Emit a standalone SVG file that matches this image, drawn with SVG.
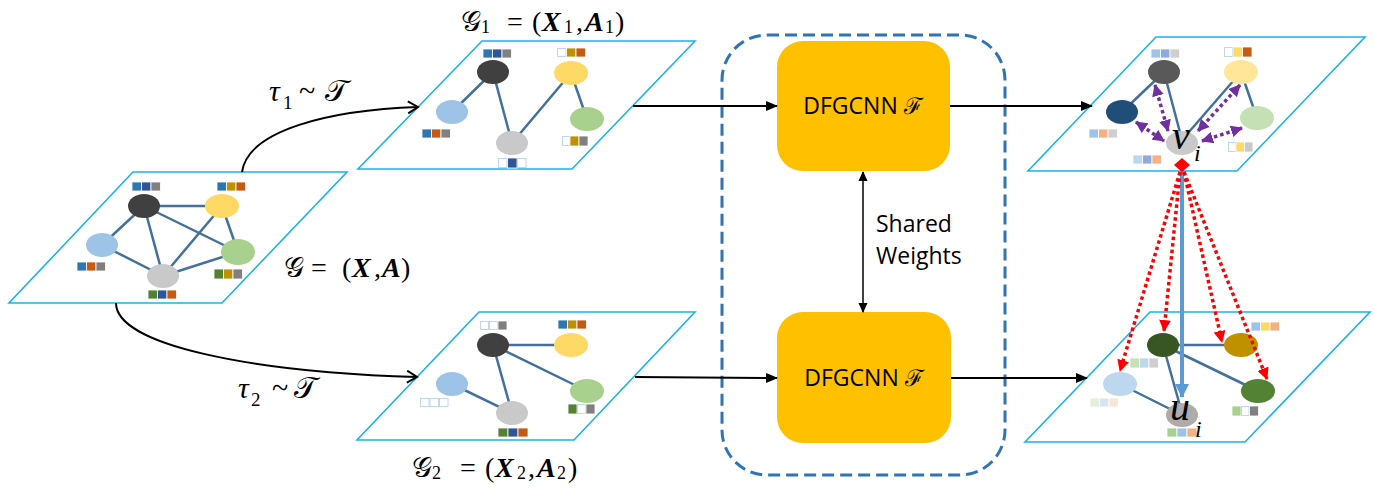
<svg xmlns="http://www.w3.org/2000/svg" width="1374" height="493" viewBox="0 0 1374 493">
<style>
.plane{fill:#fff;stroke:#1CB2EC;stroke-width:1.6}
.edge{stroke:#41719C;stroke-width:2.5;fill:none}
.sq{stroke:#fff;stroke-width:0.8}
.wsq{fill:#fff;stroke:#BDD7EE;stroke-width:1}
.conn{stroke:#000;stroke-width:2;fill:none}
.math{font-family:"Liberation Serif","DejaVu Serif",serif;fill:#000}
.bi{font-weight:bold;font-style:italic}
.it{font-style:italic}
.sub{font-size:18px}
.lbl{font-family:"Open Sans","Liberation Sans",sans-serif;font-size:23px;fill:#000}
.box{fill:#FFC000}
.purple{stroke:#7030A0;stroke-width:3.5;stroke-dasharray:3.5 3;fill:none}
.red{stroke:#FF0000;stroke-width:3.5;stroke-dasharray:3.5 3;fill:none}
</style>
<defs>
<marker id="tri" markerUnits="userSpaceOnUse" markerWidth="12" markerHeight="10" refX="11" refY="5" orient="auto"><path d="M0,0 L12,5 L0,10 Z" fill="#000"/></marker>
<marker id="tri2" markerUnits="userSpaceOnUse" markerWidth="10" markerHeight="10" refX="9" refY="5" orient="auto-start-reverse"><path d="M0,0.5 L10,5 L0,9.5 Z" fill="#000"/></marker>
<marker id="chev" markerUnits="userSpaceOnUse" markerWidth="14" markerHeight="14" refX="12" refY="7" orient="auto"><path d="M2,1 L12,7 L2,13" fill="none" stroke="#000" stroke-width="2"/></marker>
<marker id="pur" markerUnits="userSpaceOnUse" markerWidth="12" markerHeight="12" refX="11" refY="6" orient="auto-start-reverse"><path d="M0,0 L12,6 L0,12 Z" fill="#7030A0"/></marker>
<marker id="redm" markerUnits="userSpaceOnUse" markerWidth="12" markerHeight="12" refX="11" refY="6" orient="auto"><path d="M0,0 L12,6 L0,12 Z" fill="#FF0000"/></marker>
<marker id="bluem" markerUnits="userSpaceOnUse" markerWidth="14" markerHeight="14" refX="13" refY="7" orient="auto"><path d="M0,0 L14,7 L0,14 Z" fill="#5B9BD5"/></marker>
</defs>

<!-- dashed container -->
<g id="shared-box">
<rect x="722" y="35" width="283" height="440" rx="45" fill="none" stroke="#2E75B6" stroke-width="3" stroke-dasharray="12 6"/>
</g>

<!-- Original graph G -->
<g id="graph-G">
<polygon class="plane" points="133,172 347,172 222,303 9,303"/>
<line class="edge" x1="144" y1="206" x2="222" y2="206"/>
<line class="edge" x1="144" y1="206" x2="102" y2="245"/>
<line class="edge" x1="144" y1="206" x2="163" y2="276"/>
<line class="edge" x1="144" y1="206" x2="238" y2="252"/>
<line class="edge" x1="222" y1="206" x2="163" y2="276"/>
<line class="edge" x1="222" y1="206" x2="238" y2="252"/>
<line class="edge" x1="102" y1="245" x2="163" y2="276"/>
<line class="edge" x1="163" y1="276" x2="238" y2="252"/>
<ellipse cx="144" cy="206" rx="16" ry="12" fill="#404040"/>
<ellipse cx="222" cy="206" rx="17" ry="12" fill="#FFD966"/>
<ellipse cx="102" cy="245" rx="16" ry="12" fill="#9DC3E6"/>
<ellipse cx="238" cy="252" rx="17" ry="13" fill="#A9D18E"/>
<ellipse cx="163" cy="276" rx="16" ry="12" fill="#C9C9C9"/>
<rect class="sq" x="132" y="182" width="9.5" height="9" fill="#2E75B6"/><rect class="sq" x="141.5" y="182" width="9.5" height="9" fill="#2F5597"/><rect class="sq" x="151" y="182" width="9.5" height="9" fill="#808080"/>
<rect class="sq" x="217" y="182" width="9.5" height="9" fill="#2E75B6"/><rect class="sq" x="226.5" y="182" width="9.5" height="9" fill="#BF9000"/><rect class="sq" x="236" y="182" width="9.5" height="9" fill="#C55A11"/>
<rect class="sq" x="77" y="262" width="9.5" height="9" fill="#2E75B6"/><rect class="sq" x="86.5" y="262" width="9.5" height="9" fill="#C55A11"/><rect class="sq" x="96" y="262" width="9.5" height="9" fill="#808080"/>
<rect class="sq" x="214" y="269" width="9.5" height="10" fill="#548235"/><rect class="sq" x="223.5" y="269" width="9.5" height="10" fill="#BF9000"/><rect class="sq" x="233" y="269" width="9.5" height="10" fill="#808080"/>
<rect class="sq" x="148" y="290" width="9.5" height="9" fill="#548235"/><rect class="sq" x="157.5" y="290" width="9.5" height="9" fill="#2F5597"/><rect class="sq" x="167" y="290" width="9.5" height="9" fill="#C55A11"/>
<text class="math" style="font-size:28px" y="277"><tspan x="284">𝒢</tspan><tspan x="311">=</tspan><tspan x="342">(</tspan><tspan x="352" class="bi">X</tspan><tspan x="374">,</tspan><tspan x="382" class="bi">A</tspan><tspan x="401">)</tspan></text>
</g>

<!-- G1 -->
<g id="graph-G1">
<polygon class="plane" points="482,41 695,41 572,169 358,169"/>
<line class="edge" x1="493" y1="72" x2="452" y2="112"/>
<line class="edge" x1="493" y1="72" x2="512" y2="143"/>
<line class="edge" x1="512" y1="143" x2="571" y2="73"/>
<line class="edge" x1="571" y1="73" x2="587" y2="119"/>
<ellipse cx="493" cy="72" rx="16" ry="12" fill="#404040"/>
<ellipse cx="571" cy="73" rx="17" ry="12" fill="#FFD966"/>
<ellipse cx="452" cy="112" rx="16" ry="12" fill="#9DC3E6"/>
<ellipse cx="587" cy="119" rx="17" ry="12" fill="#A9D18E"/>
<ellipse cx="512" cy="143" rx="16" ry="12" fill="#C9C9C9"/>
<rect class="sq" x="483" y="49" width="9.5" height="9" fill="#2E75B6"/><rect class="sq" x="492.5" y="49" width="9.5" height="9" fill="#2F5597"/><rect class="sq" x="502" y="49" width="9.5" height="9" fill="#808080"/>
<rect class="wsq" x="557.5" y="48.5" width="8.5" height="8"/><rect class="sq" x="566.5" y="48" width="9.5" height="9" fill="#BF9000"/><rect class="sq" x="576" y="48" width="9.5" height="9" fill="#C55A11"/>
<rect class="sq" x="422" y="129" width="9.5" height="9" fill="#2E75B6"/><rect class="sq" x="431.5" y="129" width="9.5" height="9" fill="#C55A11"/><rect class="sq" x="441" y="129" width="9.5" height="9" fill="#808080"/>
<rect class="wsq" x="562.5" y="136.5" width="7.5" height="9"/><rect class="sq" x="570" y="136" width="9" height="10" fill="#BF9000"/><rect class="sq" x="579" y="136" width="9" height="10" fill="#808080"/>
<rect class="wsq" x="498.5" y="158.5" width="8.5" height="9"/><rect class="sq" x="507.5" y="158" width="9.5" height="10" fill="#2F5597"/><rect class="wsq" x="517.5" y="158.5" width="8.5" height="9"/>
<text class="math" style="font-size:28px"><tspan x="461" y="31">𝒢</tspan><tspan x="481" y="33" class="sub">1</tspan><tspan x="507" y="31">=</tspan><tspan x="532" y="31">(</tspan><tspan x="542" y="31" class="bi">X</tspan><tspan x="564" y="33" class="sub">1</tspan><tspan x="576" y="31">,</tspan><tspan x="585" y="31" class="bi">A</tspan><tspan x="605" y="33" class="sub">1</tspan><tspan x="615" y="31">)</tspan></text>
</g>

<!-- G2 -->
<g id="graph-G2">
<polygon class="plane" points="479,312 695,312 574,440 357,440"/>
<line class="edge" x1="493" y1="345" x2="571" y2="345"/>
<line class="edge" x1="493" y1="345" x2="587" y2="391"/>
<line class="edge" x1="493" y1="345" x2="512" y2="413"/>
<line class="edge" x1="452" y1="384" x2="512" y2="413"/>
<ellipse cx="493" cy="345" rx="16" ry="12" fill="#404040"/>
<ellipse cx="571" cy="345" rx="17" ry="12" fill="#FFD966"/>
<ellipse cx="452" cy="384" rx="16" ry="12" fill="#9DC3E6"/>
<ellipse cx="587" cy="391" rx="17" ry="12" fill="#A9D18E"/>
<ellipse cx="512" cy="413" rx="16" ry="12" fill="#C9C9C9"/>
<rect class="wsq" x="480.5" y="321.5" width="8" height="8"/><rect class="wsq" x="489.5" y="321.5" width="8" height="8"/><rect class="sq" x="498" y="321" width="9" height="9" fill="#808080"/>
<rect class="sq" x="558" y="320" width="9.5" height="9" fill="#2E75B6"/><rect class="sq" x="567.5" y="320" width="9.5" height="9" fill="#BF9000"/><rect class="sq" x="577" y="320" width="9.5" height="9" fill="#C55A11"/>
<rect class="wsq" x="420.5" y="398.5" width="8.5" height="8"/><rect class="wsq" x="430" y="398.5" width="8.5" height="8"/><rect class="wsq" x="439.5" y="398.5" width="8.5" height="8"/>
<rect class="sq" x="568" y="404" width="9" height="10" fill="#548235"/><rect class="wsq" x="577.5" y="404.5" width="8" height="9"/><rect class="sq" x="586" y="404" width="9" height="10" fill="#808080"/>
<rect class="sq" x="498" y="428" width="10" height="9" fill="#548235"/><rect class="sq" x="508" y="428" width="10" height="9" fill="#2F5597"/><rect class="sq" x="518" y="428" width="10" height="9" fill="#C55A11"/>
<text class="math" style="font-size:28px"><tspan x="412" y="477">𝒢</tspan><tspan x="432" y="479" class="sub">2</tspan><tspan x="460" y="477">=</tspan><tspan x="485" y="477">(</tspan><tspan x="495" y="477" class="bi">X</tspan><tspan x="517" y="479" class="sub">2</tspan><tspan x="528" y="477">,</tspan><tspan x="537" y="477" class="bi">A</tspan><tspan x="557" y="479" class="sub">2</tspan><tspan x="568" y="477">)</tspan></text>
</g>

<!-- DFGCNN boxes -->
<g id="dfgcnn-top">
<rect class="box" x="777" y="41" width="173" height="130" rx="26"/>
<text class="lbl" x="863" y="114" text-anchor="middle">DFGCNN ℱ</text>
</g>
<g id="dfgcnn-bottom">
<rect class="box" x="777" y="312" width="174" height="131" rx="26"/>
<text class="lbl" x="864" y="386" text-anchor="middle">DFGCNN ℱ</text>
</g>
<g id="shared-label">
<text class="lbl" x="876" y="232">Shared</text>
<text class="lbl" x="876" y="264">Weights</text>
</g>

<!-- Right top graph (view v) -->
<g id="graph-out-top">
<polygon class="plane" points="1156,37 1365,37 1237,171 1028,171"/>
<line class="edge" x1="1164" y1="72" x2="1122" y2="112"/>
<line class="edge" x1="1164" y1="72" x2="1182" y2="140"/>
<line class="edge" x1="1182" y1="140" x2="1241" y2="72"/>
<line class="edge" x1="1241" y1="72" x2="1257" y2="118"/>
<ellipse cx="1164" cy="72" rx="16" ry="12" fill="#595959"/>
<ellipse cx="1241" cy="72" rx="17" ry="12" fill="#FFE699"/>
<ellipse cx="1122" cy="112" rx="16" ry="12" fill="#1F4E79"/>
<ellipse cx="1257" cy="118" rx="17" ry="12" fill="#C5E0B4"/>
<ellipse cx="1182" cy="143" rx="16" ry="12" fill="#C9C9C9"/>
<rect class="sq" x="1151" y="49" width="9.5" height="9" fill="#9DC3E6"/><rect class="sq" x="1160.5" y="49" width="9.5" height="9" fill="#8FAADC"/><rect class="sq" x="1170" y="49" width="9.5" height="9" fill="#D0CECE"/>
<rect class="wsq" x="1224.5" y="47.5" width="8" height="9"/><rect class="sq" x="1233" y="47" width="9.5" height="10" fill="#FFD966"/><rect class="sq" x="1242.5" y="47" width="9.5" height="10" fill="#C55A11"/>
<rect class="sq" x="1089" y="129" width="9.5" height="9" fill="#9DC3E6"/><rect class="sq" x="1098.5" y="129" width="9.5" height="9" fill="#F4B183"/><rect class="sq" x="1108" y="129" width="9.5" height="9" fill="#D0CECE"/>
<rect class="wsq" x="1228.5" y="142.5" width="7.5" height="9"/><rect class="sq" x="1236" y="142" width="8.5" height="10" fill="#FFD966"/><rect class="sq" x="1244.5" y="142" width="8.5" height="10" fill="#C9C9C9"/>
<rect class="sq" x="1133" y="155" width="9.5" height="9" fill="#BDD7EE"/><rect class="sq" x="1142.5" y="155" width="9.5" height="9" fill="#8FAADC"/><rect class="sq" x="1152" y="155" width="9.5" height="9" fill="#F4B183"/>
<path class="purple" d="M1155,85 L1168,131" marker-start="url(#pur)" marker-end="url(#pur)"/>
<path class="purple" d="M1136,122 L1164,141" marker-start="url(#pur)" marker-end="url(#pur)"/>
<path class="purple" d="M1240,85 L1198,131" marker-start="url(#pur)" marker-end="url(#pur)"/>
<path class="purple" d="M1242,128 L1202,141" marker-start="url(#pur)" marker-end="url(#pur)"/>
<text class="math it" style="font-size:40px"><tspan x="1172" y="149">v</tspan><tspan x="1194" y="161" style="font-size:24px">i</tspan></text>
</g>

<!-- Right bottom graph (view u) -->
<g id="graph-out-bottom">
<polygon class="plane" points="1150,312 1370,312 1245,442 1025,442"/>
<line class="edge" x1="1163" y1="345" x2="1241" y2="345"/>
<line class="edge" x1="1163" y1="345" x2="1182" y2="413"/>
<line class="edge" x1="1163" y1="345" x2="1258" y2="391"/>
<line class="edge" x1="1120" y1="384" x2="1182" y2="415"/>
<ellipse cx="1163" cy="345" rx="16" ry="12" fill="#375623"/>
<ellipse cx="1241" cy="345" rx="17" ry="12" fill="#BF9000"/>
<ellipse cx="1120" cy="384" rx="17" ry="12" fill="#BDD7EE"/>
<ellipse cx="1258" cy="391" rx="17" ry="12" fill="#548235"/>
<ellipse cx="1182" cy="415" rx="16" ry="12" fill="#AFABAB"/>
<rect class="sq" x="1130" y="358" width="9.5" height="10" fill="#C5E0B4"/><rect class="sq" x="1139.5" y="358" width="9.5" height="10" fill="#BDD7EE"/><rect class="sq" x="1149" y="358" width="9.5" height="10" fill="#D0CECE"/>
<rect class="sq" x="1251" y="322" width="9.5" height="9" fill="#9DC3E6"/><rect class="sq" x="1260.5" y="322" width="9.5" height="9" fill="#FFD966"/><rect class="sq" x="1270" y="322" width="9.5" height="9" fill="#F4B183"/>
<rect class="sq" x="1090" y="398" width="9.5" height="9" fill="#E2F0D9"/><rect class="sq" x="1099.5" y="398" width="9.5" height="9" fill="#DAE3F3"/><rect class="sq" x="1109" y="398" width="9.5" height="9" fill="#FBE5D6"/>
<rect class="sq" x="1232" y="406" width="9" height="10" fill="#A9D18E"/><rect class="wsq" x="1241.5" y="406.5" width="7.5" height="9"/><rect class="sq" x="1249.5" y="406" width="9" height="10" fill="#7F7F7F"/>
<rect class="sq" x="1167" y="428" width="10" height="9" fill="#A9D18E"/><rect class="sq" x="1177" y="428" width="10" height="9" fill="#9DC3E6"/><rect class="sq" x="1187" y="428" width="10" height="9" fill="#F4B183"/>
<text class="math it" style="font-size:40px"><tspan x="1170" y="420">u</tspan><tspan x="1195" y="437" style="font-size:24px">i</tspan></text>
</g>

<!-- connectors -->
<g id="connectors">
<path class="conn" d="M242,172 C248,130 330,110 418,107" marker-end="url(#chev)"/>
<path class="conn" d="M116,303 C116,345 250,372 417,377" marker-end="url(#chev)"/>
<line class="conn" x1="633" y1="106" x2="777" y2="106" marker-end="url(#tri)"/>
<line class="conn" x1="950" y1="106" x2="1092" y2="106" marker-end="url(#tri)"/>
<line class="conn" x1="635" y1="377" x2="777" y2="378" marker-end="url(#tri)"/>
<line class="conn" x1="951" y1="378" x2="1087" y2="378" marker-end="url(#tri)"/>
<line stroke="#000" stroke-width="1.5" x1="863" y1="172" x2="863" y2="312" marker-start="url(#tri2)" marker-end="url(#tri2)"/>
<line stroke="#5B9BD5" stroke-width="4" x1="1182" y1="168" x2="1182" y2="397" marker-end="url(#bluem)"/>
<path class="red" d="M1180,172 L1120,371" marker-end="url(#redm)"/>
<path class="red" d="M1180,172 L1164,331" marker-end="url(#redm)"/>
<path class="red" d="M1184,172 L1222,342" marker-end="url(#redm)"/>
<path class="red" d="M1184,172 L1267,379" marker-end="url(#redm)"/>
<polygon points="1182,158 1190,165 1182,172 1174,165" fill="#FF0000"/>
<text class="math" style="font-size:30px"><tspan x="269" y="101" class="it">τ</tspan><tspan x="283" y="109" style="font-size:19px">1</tspan><tspan x="299" y="101">~</tspan><tspan x="325" y="101">𝒯</tspan></text>
<text class="math" style="font-size:30px"><tspan x="238" y="398" class="it">τ</tspan><tspan x="251" y="406" style="font-size:19px">2</tspan><tspan x="272" y="398">~</tspan><tspan x="294" y="398">𝒯</tspan></text>
</g>
</svg>
